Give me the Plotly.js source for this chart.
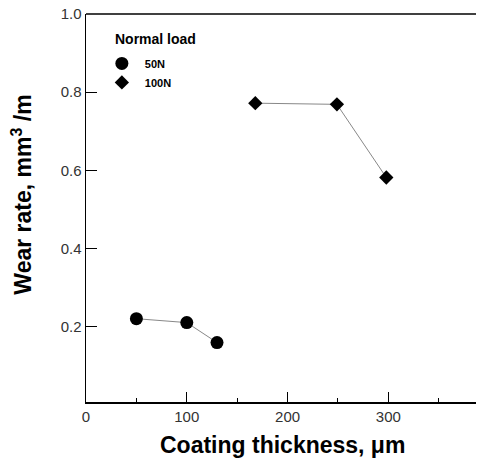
<!DOCTYPE html>
<html>
<head>
<meta charset="utf-8">
<script src="https://cdn.plot.ly/plotly-3.0.1.min.js"></script>
<style>html,body{margin:0;padding:0;background:#fff;}#chart{width:478px;height:460px;}</style>
</head>
<body>
<div id="chart"></div>
<script>
const thickness50 = [50, 100, 130];
const wear50 = [0.221, 0.211, 0.160];
const thickness100 = [168, 249, 298];
const wear100 = [0.772, 0.769, 0.582];
const seriesNames = ["50N", "100N"];
const legendTitle = "Normal load";
const xTicks = [0, 100, 200, 300];
const yTicks = [0.2, 0.4, 0.6, 0.8, 1.0];
const yTickText = ["0.2", "0.4", "0.6", "0.8", "1.0"];

const lineStyle = {color: "#888", width: 1};
const traces = [
  {x: thickness50, y: wear50, mode: "lines", type: "scatter", line: lineStyle, showlegend: false, hoverinfo: "skip"},
  {x: thickness100, y: wear100, mode: "lines", type: "scatter", line: lineStyle, showlegend: false, hoverinfo: "skip"},
  {x: thickness50, y: wear50, name: seriesNames[0], mode: "markers", type: "scatter",
   marker: {symbol: "circle", size: 13, color: "#000"}},
  {x: thickness100, y: wear100, name: seriesNames[1], mode: "markers", type: "scatter",
   marker: {symbol: "diamond", size: 11, color: "#000"}}
];

const layout = {
  width: 478, height: 460,
  margin: {l: 86, r: 2, t: 14, b: 58},
  paper_bgcolor: "#fff", plot_bgcolor: "#fff",
  font: {family: "Liberation Sans, Arial, sans-serif", color: "#000"},
  showlegend: true,
  legend: {x: 0.033, y: 0.91, xanchor: "left", yanchor: "top",
    font: {size: 11, color: "#000", weight: "bold"},
    bgcolor: "rgba(0,0,0,0)", itemwidth: 36, tracegroupgap: 0},
  xaxis: {range: [0, 387], tickvals: xTicks, ticks: "inside", ticklen: 10, tickwidth: 1,
    tickcolor: "#000", showline: true, linecolor: "#000", linewidth: 1.5, mirror: false,
    showgrid: false, zeroline: false, tickfont: {size: 15, color: "#333"},
    minor: {dtick: 50, tick0: 50, ticks: "inside", ticklen: 4, tickcolor: "#000", showgrid: false},
    title: {text: ""}},
  yaxis: {range: [0.008, 1.0], tickvals: yTicks, ticktext: yTickText, ticks: "inside", ticklen: 11,
    tickwidth: 1, tickcolor: "#000", showline: true, linecolor: "#000", linewidth: 1.5,
    showgrid: false, zeroline: false, tickfont: {size: 15, color: "#333"}, title: {text: ""}},
  shapes: [{type: "line", xref: "paper", yref: "paper", x0: 0, x1: 1, y0: 1, y1: 1,
    line: {color: "#000", width: 1.5}}],
  annotations: [
    {text: "<b>" + legendTitle + "</b>", xref: "paper", yref: "paper", x: 0.069, y: 0.936,
     xanchor: "left", yanchor: "middle", showarrow: false, font: {size: 14, color: "#000"}},
    {text: "<b>Coating thickness, μm</b>", xref: "paper", yref: "paper", x: 0.505, y: -0.072,
     xanchor: "center", yanchor: "top", showarrow: false, font: {size: 23, color: "#000"}},
    {text: "<b>Wear rate, mm<sup>3</sup> /m</b>", xref: "paper", yref: "paper", x: -0.165, y: 0.5,
     yshift: 13, xanchor: "center", yanchor: "middle", textangle: -90, showarrow: false,
     font: {size: 23, color: "#000"}}
  ]
};
Plotly.newPlot("chart", traces, layout, {displayModeBar: false, staticPlot: true});
</script>
</body>
</html>
